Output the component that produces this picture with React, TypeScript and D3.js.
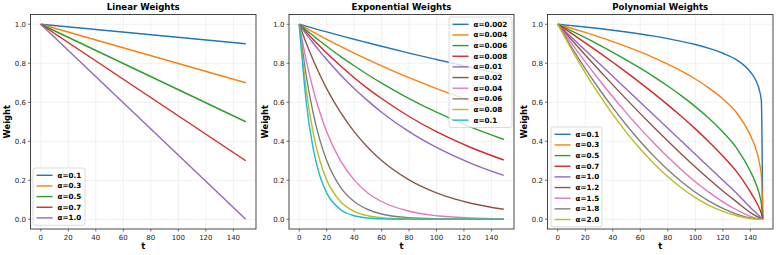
import React, { useEffect, useRef } from "react";
import * as d3 from "d3";

const colors = ["#1f77b4", "#ff7f0e", "#2ca02c", "#d62728", "#9467bd", "#8c564b", "#e377c2", "#7f7f7f", "#bcbd22", "#17becf"];

// Linear weights
const linearT = [0, 149];
const linearAlphas = ["0.1", "0.3", "0.5", "0.7", "1.0"];
const linearWeights = [
  [1, 0.9],
  [1, 0.7],
  [1, 0.5],
  [1, 0.3],
  [1, 0.0],
];

// Exponential weights
const expT = [0, 5, 10, 15, 20, 30, 40, 50, 60, 80, 100, 125, 149];
const expAlphas = ["0.002", "0.004", "0.006", "0.008", "0.01", "0.02", "0.04", "0.06", "0.08", "0.1"];
const expWeights = [
  [1, 0.990, 0.980, 0.970, 0.961, 0.942, 0.923, 0.905, 0.887, 0.852, 0.819, 0.779, 0.742],
  [1, 0.980, 0.961, 0.942, 0.923, 0.887, 0.852, 0.819, 0.787, 0.726, 0.670, 0.607, 0.551],
  [1, 0.970, 0.942, 0.914, 0.887, 0.835, 0.787, 0.741, 0.698, 0.619, 0.549, 0.472, 0.409],
  [1, 0.961, 0.923, 0.887, 0.852, 0.787, 0.726, 0.670, 0.619, 0.527, 0.449, 0.368, 0.304],
  [1, 0.951, 0.905, 0.861, 0.819, 0.741, 0.670, 0.607, 0.549, 0.449, 0.368, 0.287, 0.225],
  [1, 0.905, 0.819, 0.741, 0.670, 0.549, 0.449, 0.368, 0.301, 0.202, 0.135, 0.082, 0.051],
  [1, 0.819, 0.670, 0.549, 0.449, 0.301, 0.202, 0.135, 0.091, 0.041, 0.018, 0.0067, 0.0026],
  [1, 0.741, 0.549, 0.407, 0.301, 0.165, 0.091, 0.050, 0.027, 0.0082, 0.0025, 0.0006, 0.0001],
  [1, 0.670, 0.449, 0.301, 0.202, 0.091, 0.041, 0.018, 0.0082, 0.0017, 0.0003, 0.0, 0.0],
  [1, 0.607, 0.368, 0.223, 0.135, 0.050, 0.018, 0.0067, 0.0025, 0.0003, 0.0, 0.0, 0.0],
];

// Polynomial weights
const polyT = [0, 10, 20, 30, 40, 50, 60, 70, 80, 90, 100, 110, 120, 130, 140, 144, 147, 148, 149];
const polyAlphas = ["0.1", "0.3", "0.5", "0.7", "1.0", "1.2", "1.5", "1.8", "2.0"];
const polyWeights = [
  [1, 0.9931, 0.9858, 0.9779, 0.9695, 0.9603, 0.9502, 0.9391, 0.9266, 0.9124, 0.8960, 0.8762, 0.8513, 0.8177, 0.7550, 0.7117, 0.6494, 0.6059, 0],
  [1, 0.9795, 0.9580, 0.9353, 0.9111, 0.8854, 0.8579, 0.8281, 0.7957, 0.7597, 0.7193, 0.6727, 0.6170, 0.5463, 0.4300, 0.3605, 0.2738, 0.2224, 0],
  [1, 0.9661, 0.9309, 0.8944, 0.8563, 0.8165, 0.7746, 0.7303, 0.6831, 0.6325, 0.5774, 0.5164, 0.4472, 0.3651, 0.2460, 0.1826, 0.1155, 0.0816, 0],
  [1, 0.9528, 0.9047, 0.8554, 0.8049, 0.7529, 0.6994, 0.6440, 0.5865, 0.5266, 0.4635, 0.3964, 0.3241, 0.2441, 0.1400, 0.0925, 0.0487, 0.0300, 0],
  [1, 0.9333, 0.8667, 0.8000, 0.7333, 0.6667, 0.6000, 0.5333, 0.4667, 0.4000, 0.3333, 0.2667, 0.2000, 0.1333, 0.0604, 0.0336, 0.0134, 0.0067, 0],
  [1, 0.9205, 0.8422, 0.7651, 0.6892, 0.6147, 0.5417, 0.4703, 0.4007, 0.3330, 0.2676, 0.2047, 0.1450, 0.0891, 0.0344, 0.0169, 0.0056, 0.0024, 0],
  [1, 0.9017, 0.8068, 0.7155, 0.6280, 0.5443, 0.4648, 0.3895, 0.3188, 0.2530, 0.1925, 0.1377, 0.0894, 0.0487, 0.0148, 0.0061, 0.0015, 0.0005, 0],
  [1, 0.8832, 0.7729, 0.6693, 0.5721, 0.4820, 0.3988, 0.3225, 0.2536, 0.1922, 0.1384, 0.0926, 0.0552, 0.0266, 0.0064, 0.0022, 0.0004, 0.0001, 0],
  [1, 0.8711, 0.7511, 0.6400, 0.5378, 0.4444, 0.3600, 0.2844, 0.2178, 0.1600, 0.1111, 0.0711, 0.0400, 0.0178, 0.0036, 0.0011, 0.0002, 0.0000, 0],
];

const xTicks = [0, 20, 40, 60, 80, 100, 120, 140];
const yTicks = [0, 0.2, 0.4, 0.6, 0.8, 1.0];

const W = 777;
const H = 255;
const FONT = "DejaVu Sans, Verdana, sans-serif";

export default function App() {
  const svgRef = useRef<SVGSVGElement>(null);

  useEffect(() => {
    if (!svgRef.current) return;
    const svg = d3.select(svgRef.current);
    svg.selectAll("*").remove();

    const top = 14.5;
    const bottom = 229;

    const panels = [
      { left: 30.5, right: 256, title: "Linear Weights", t: linearT, alphas: linearAlphas, weights: linearWeights, legend: { x: 33, y: 168, w: 52 } },
      { left: 289, right: 514, title: "Exponential Weights", t: expT, alphas: expAlphas, weights: expWeights, legend: { x: 449, y: 17, w: 63 } },
      { left: 547.5, right: 773, title: "Polynomial Weights", t: polyT, alphas: polyAlphas, weights: polyWeights, legend: { x: 551, y: 127, w: 51 } },
    ];

    panels.forEach((p) => {
      const g = svg.append("g");
      const x = d3.scaleLinear().domain([-7.45, 156.45]).range([p.left, p.right]);
      const y = d3.scaleLinear().domain([-0.05, 1.05]).range([bottom, top]);

      // grid
      g.selectAll(".gx").data(xTicks).join("line")
        .attr("x1", (d) => x(d)).attr("x2", (d) => x(d))
        .attr("y1", top).attr("y2", bottom)
        .attr("stroke", "#b0b0b0").attr("stroke-opacity", 0.3).attr("stroke-width", 0.6);
      g.selectAll(".gy").data(yTicks).join("line")
        .attr("x1", p.left).attr("x2", p.right)
        .attr("y1", (d) => y(d)).attr("y2", (d) => y(d))
        .attr("stroke", "#b0b0b0").attr("stroke-opacity", 0.3).attr("stroke-width", 0.6);

      // curves
      const line = d3.line<number>()
        .x((_, i) => x(p.t[i]))
        .y((d) => y(d))
        .curve(d3.curveMonotoneX);
      p.weights.forEach((ws, k) => {
        g.append("path")
          .attr("d", line(ws))
          .attr("fill", "none")
          .attr("stroke", colors[k])
          .attr("stroke-width", 1.4);
      });

      // frame
      g.append("rect")
        .attr("x", p.left).attr("y", top)
        .attr("width", p.right - p.left).attr("height", bottom - top)
        .attr("fill", "none").attr("stroke", "#333").attr("stroke-width", 0.9);

      // ticks
      xTicks.forEach((v) => {
        g.append("line").attr("x1", x(v)).attr("x2", x(v)).attr("y1", bottom).attr("y2", bottom + 2.5)
          .attr("stroke", "#333").attr("stroke-width", 0.7);
        g.append("text").attr("x", x(v)).attr("y", bottom + 10.5)
          .attr("text-anchor", "middle").attr("font-size", 7).attr("font-family", FONT).attr("fill", "#222")
          .text(String(v));
      });
      yTicks.forEach((v) => {
        g.append("line").attr("x1", p.left - 2.5).attr("x2", p.left).attr("y1", y(v)).attr("y2", y(v))
          .attr("stroke", "#333").attr("stroke-width", 0.7);
        g.append("text").attr("x", p.left - 4.5).attr("y", y(v) + 2.5)
          .attr("text-anchor", "end").attr("font-size", 7).attr("font-family", FONT).attr("fill", "#222")
          .text(v.toFixed(1));
      });

      // title and axis labels
      const cx = (p.left + p.right) / 2;
      g.append("text").attr("x", cx).attr("y", 10.3)
        .attr("text-anchor", "middle").attr("font-size", 8.6).attr("font-weight", "bold").attr("font-family", FONT)
        .text(p.title);
      g.append("text").attr("x", cx).attr("y", 249)
        .attr("text-anchor", "middle").attr("font-size", 8.4).attr("font-weight", "bold").attr("font-family", FONT)
        .text("t");
      g.append("text")
        .attr("transform", `translate(${p.left - 21},${(top + bottom) / 2}) rotate(-90)`)
        .attr("text-anchor", "middle").attr("font-size", 8.4).attr("font-weight", "bold").attr("font-family", FONT)
        .text("Weight");

      // legend
      const rowH = 10.65;
      const lg = g.append("g");
      lg.append("rect")
        .attr("x", p.legend.x).attr("y", p.legend.y)
        .attr("width", p.legend.w).attr("height", p.alphas.length * rowH + 4)
        .attr("rx", 2)
        .attr("fill", "white").attr("fill-opacity", 0.8)
        .attr("stroke", "#ccc").attr("stroke-width", 0.7);
      p.alphas.forEach((a, k) => {
        const ry = p.legend.y + 7.3 + k * rowH;
        lg.append("line")
          .attr("x1", p.legend.x + 3.5).attr("x2", p.legend.x + 19.5)
          .attr("y1", ry).attr("y2", ry)
          .attr("stroke", colors[k]).attr("stroke-width", 1.4);
        lg.append("text")
          .attr("x", p.legend.x + 24.5).attr("y", ry + 2.5)
          .attr("font-size", 7.2).attr("font-weight", "bold").attr("font-family", FONT)
          .text(`α=${a}`);
      });
    });
  }, []);

  return (
    <svg ref={svgRef} width={W} height={H} style={{ display: "block", position: "absolute", left: 0, top: 0, background: "white" }} />
  );
}
